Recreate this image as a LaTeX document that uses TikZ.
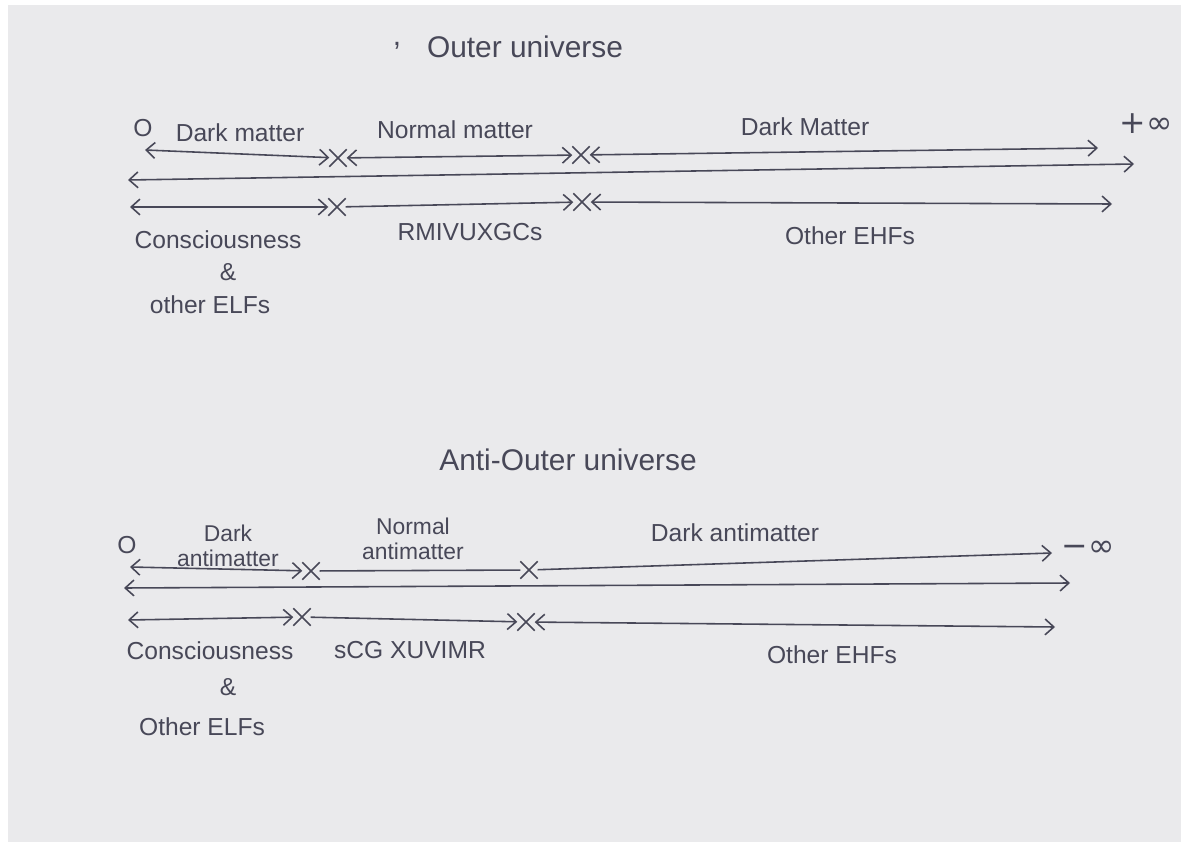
\documentclass[tikz,border=0pt]{standalone}
\usepackage{fontspec}
\setmainfont{Liberation Sans}
\newfontfamily\symfont{DejaVu Sans}
\usetikzlibrary{arrows.meta,shapes.misc}
\definecolor{paper}{RGB}{234,234,236}
\definecolor{ink}{RGB}{72,72,88}
\tikzset{
  hand/.style={text=ink,font=\fontsize{14}{16}\selectfont,inner sep=1pt},
  two/.style={text=ink,font=\fontsize{13}{14}\selectfont,inner sep=0pt,align=center},
  big/.style={text=ink,font=\fontsize{18}{20}\selectfont,inner sep=1pt},
  title/.style={text=ink,font=\fontsize{17}{19}\selectfont,inner sep=1pt},
  line/.style={draw=ink,line width=0.9pt},
  dbl/.style={line,{Straight Barb[length=5pt,width=9pt]}-{Straight Barb[length=5pt,width=9pt]}},
  fwd/.style={line,-{Straight Barb[length=5pt,width=9pt]}},
  xmark/.style={draw=ink,line width=0.9pt,cross out,minimum size=9pt,inner sep=0pt},
}
\begin{document}
\begin{tikzpicture}[x=0.02cm,y=-0.02cm]
\useasboundingbox (0,0) rectangle (1189,847);
\fill[white] (0,0) rectangle (1189,847);
\fill[paper] (8,5) rectangle (1181,842);

% ---------- Outer universe ----------
\node[title] (comma1) at (397,46) {,};
\node[title] (t1) at (525,47) {Outer universe};

\node[hand] (o1) at (143,128) {O};
\node[hand] (l11) at (240,133) {Dark matter};
\node[hand] (l12) at (455,130) {Normal matter};
\node[hand] (l13) at (805,127) {Dark Matter};
\node[big] (pinf) at (1146,124) {\symfont +∞};

\coordinate (a1L) at (145,150);
\node[xmark] (x11) at (338,158) {};
\node[xmark] (x12) at (581,155) {};
\coordinate (a1R) at (1098,148);
\draw[dbl] (a1L) -- (x11);
\draw[dbl] (x11) -- (x12);
\draw[dbl] (x12) -- (a1R);

\coordinate (b1L) at (128,180);
\coordinate (b1R) at (1134,164);
\draw[dbl] (b1L) -- (b1R);

\coordinate (c1L) at (130,207);
\node[xmark] (x13) at (337,207) {};
\node[xmark] (x14) at (582,202) {};
\coordinate (c1R) at (1112,204);
\draw[dbl] (c1L) -- (x13);
\draw[fwd] (x13) -- (x14);
\draw[dbl] (x14) -- (c1R);

\node[hand] (cons1) at (218,240) {Consciousness};
\node[hand] (amp1) at (228,272) {\&};
\node[hand] (elf1) at (210,305) {other ELFs};
\node[hand] (rm1) at (470,232) {RMIVUXGCs};
\node[hand] (ehf1) at (850,236) {Other EHFs};

% ---------- Anti-Outer universe ----------
\node[title] (t2) at (568,460) {Anti-Outer universe};

\node[hand] (o2) at (127,545) {O};
\node[two] (l21) at (228,546) {Dark\\antimatter};
\node[two] (l22) at (413,539) {Normal\\antimatter};
\node[hand] (l23) at (735,533) {Dark antimatter};
\node[big] (minf) at (1088,549) {\symfont −∞};

\coordinate (a2L) at (130,567);
\node[xmark] (x21) at (311,571) {};
\node[xmark] (x22) at (529,570) {};
\coordinate (a2R) at (1052,553);
\draw[dbl] (a2L) -- (x21);
\draw[line] (x21) -- (x22);
\draw[fwd] (x22) -- (a2R);

\coordinate (b2L) at (124,588);
\coordinate (b2R) at (1070,583);
\draw[dbl] (b2L) -- (b2R);

\coordinate (c2L) at (128,620);
\node[xmark] (x23) at (302,617) {};
\node[xmark] (x24) at (526,622) {};
\coordinate (c2R) at (1055,627);
\draw[dbl] (c2L) -- (x23);
\draw[fwd] (x23) -- (x24);
\draw[dbl] (x24) -- (c2R);

\node[hand] (cons2) at (210,651) {Consciousness};
\node[hand] (amp2) at (228,687) {\&};
\node[hand] (elf2) at (202,727) {Other ELFs};
\node[hand] (sc2) at (410,650) {sCG XUVIMR};
\node[hand] (ehf2) at (832,655) {Other EHFs};
\end{tikzpicture}
\end{document}
